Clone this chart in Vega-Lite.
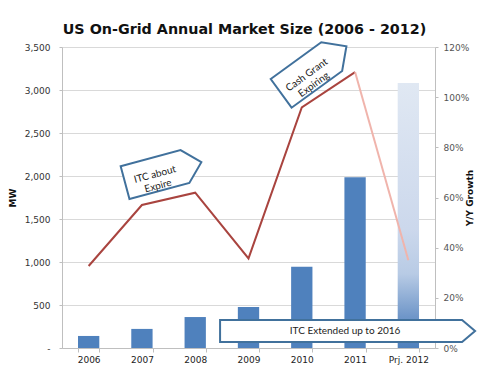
{
  "$schema": "https://vega.github.io/schema/vega-lite/v6.json",
  "width": 373,
  "height": 301,
  "autosize": {"type": "none"},
  "padding": {"left": 62, "top": 47, "right": 52, "bottom": 43},
  "background": "white",
  "title": {
    "text": "US On-Grid Annual Market Size (2006 - 2012)",
    "font": "DejaVu Sans",
    "fontSize": 14.3,
    "fontWeight": "bold",
    "color": "#111111",
    "anchor": "middle",
    "baseline": "bottom",
    "offset": 14,
    "dx": -4,
    "dy": 27
  },
  "config": {
    "view": {"stroke": null},
    "axis": {
      "labelFont": "DejaVu Sans",
      "labelFontSize": 9,
      "titleFont": "DejaVu Sans",
      "titleFontSize": 9,
      "titleFontWeight": "bold",
      "titleColor": "#111111",
      "domainColor": "#bfbfbf",
      "tickColor": "#bfbfbf",
      "gridColor": "#d9d9d9"
    }
  },
  "datasets": {
    "bars": [
      {"year": "2006", "mw": 140},
      {"year": "2007", "mw": 222},
      {"year": "2008", "mw": 360},
      {"year": "2009", "mw": 477},
      {"year": "2010", "mw": 945},
      {"year": "2011", "mw": 1985},
      {"year": "Prj. 2012", "mw": 3080}
    ],
    "growth": [
      {"year": "2006", "growth": 0.327, "seg": "actual"},
      {"year": "2007", "growth": 0.57, "seg": "actual"},
      {"year": "2008", "growth": 0.619, "seg": "actual"},
      {"year": "2009", "growth": 0.357, "seg": "actual"},
      {"year": "2010", "growth": 0.959, "seg": "actual"},
      {"year": "2011", "growth": 1.10, "seg": "actual"},
      {"year": "2011", "growth": 1.10, "seg": "projected"},
      {"year": "Prj. 2012", "growth": 0.35, "seg": "projected"}
    ],
    "notes": [
      {"id": "ext", "year": "2011", "mw": 198, "label": "ITC Extended up to 2016"},
      {"id": "itc", "year": "2007", "mw": 2000, "label": "ITC about\nExpire"},
      {"id": "cash", "year": "2010", "mw": 3175, "label": "Cash Grant\nExpiring"}
    ]
  },
  "encoding": {
    "x": {
      "field": "year",
      "type": "nominal",
      "sort": null,
      "scale": {"domain": ["2006", "2007", "2008", "2009", "2010", "2011", "Prj. 2012"], "paddingInner": 0.6, "paddingOuter": 0.3},
      "axis": {
        "title": null,
        "labelAngle": 0,
        "labelColor": "#222222",
        "tickBand": "extent",
        "tickSize": 4,
        "labelPadding": 3
      }
    }
  },
  "layer": [
    {
      "data": {"name": "bars"},
      "transform": [{"filter": "datum.year != 'Prj. 2012'"}],
      "mark": {"type": "bar", "color": "#4f81bd"},
      "encoding": {
        "y": {
          "field": "mw",
          "type": "quantitative",
          "scale": {"domain": [0, 3500], "nice": false, "zero": true},
          "axis": {
            "title": "MW",
            "values": [0, 500, 1000, 1500, 2000, 2500, 3000, 3500],
            "labelExpr": "datum.value == 0 ? '-' : format(datum.value, ',')",
            "labelColor": "#333333",
            "grid": true,
            "tickSize": 3,
            "labelPadding": 9,
            "titlePadding": 7
          }
        }
      }
    },
    {
      "data": {"name": "bars"},
      "transform": [{"filter": "datum.year == 'Prj. 2012'"}],
      "mark": {
        "type": "bar",
        "fill": {
          "gradient": "linear",
          "x1": 0, "y1": 0, "x2": 0, "y2": 1,
          "stops": [
            {"offset": 0, "color": "#e0e8f3"},
            {"offset": 0.55, "color": "#ccd8ec"},
            {"offset": 0.72, "color": "#b8cbe5"},
            {"offset": 0.88, "color": "#7097c9"},
            {"offset": 1, "color": "#4f81bd"}
          ]
        }
      },
      "encoding": {
        "y": {"field": "mw", "type": "quantitative", "scale": {"domain": [0, 3500], "nice": false}, "axis": null}
      }
    },
    {
      "data": {"name": "growth"},
      "transform": [{"filter": "datum.seg == 'actual'"}],
      "mark": {"type": "line", "color": "#a9443f", "strokeWidth": 2},
      "encoding": {
        "y": {
          "field": "growth",
          "type": "quantitative",
          "scale": {"domain": [0, 1.2], "nice": false},
          "axis": {
            "orient": "right",
            "title": "Y/Y Growth",
            "titleAngle": 270,
            "values": [0, 0.2, 0.4, 0.6, 0.8, 1.0, 1.2],
            "format": ".0%",
            "labelColor": "#555555",
            "grid": false,
            "tickSize": 3,
            "labelPadding": 5,
            "titlePadding": 6
          }
        }
      }
    },
    {
      "data": {"name": "growth"},
      "transform": [{"filter": "datum.seg == 'projected'"}],
      "mark": {"type": "line", "color": "#f0b4ac", "strokeWidth": 2},
      "encoding": {
        "y": {"field": "growth", "type": "quantitative", "scale": {"domain": [0, 1.2], "nice": false}, "axis": null}
      }
    },
    {
      "data": {"name": "notes"},
      "transform": [{"filter": "datum.id == 'ext'"}],
      "layer": [
        {
          "mark": {
            "type": "point",
            "shape": "M-1.35,-0.11L1.07,-0.11L1.2,0L1.07,0.11L-1.35,0.11Z",
            "size": 40000,
            "filled": true,
            "fill": "white",
            "stroke": "#41719c",
            "strokeWidth": 2,
            "opacity": 1
          },
          "encoding": {"y": {"field": "mw", "type": "quantitative", "scale": {"domain": [0, 3500], "nice": false}, "axis": null}}
        },
        {
          "mark": {"type": "text", "font": "Lato", "fontSize": 10, "color": "#222222", "dx": -10, "align": "center", "baseline": "middle"},
          "encoding": {
            "y": {"field": "mw", "type": "quantitative", "scale": {"domain": [0, 3500], "nice": false}, "axis": null},
            "text": {"field": "label"}
          }
        }
      ]
    },
    {
      "data": {"name": "notes"},
      "transform": [{"filter": "datum.id == 'itc'"}],
      "layer": [
        {
          "mark": {
            "type": "point",
            "shape": "M-0.36,-0.3L0.88,-0.3L1.22,0.04L0.88,0.38L-0.36,0.38Z",
            "size": 10000,
            "angle": 345,
            "filled": true,
            "fill": "white",
            "stroke": "#41719c",
            "strokeWidth": 2,
            "opacity": 1
          },
          "encoding": {"y": {"field": "mw", "type": "quantitative", "scale": {"domain": [0, 3500], "nice": false}, "axis": null}}
        },
        {
          "mark": {"type": "text", "font": "Lato", "fontSize": 10, "color": "#222222", "angle": 345, "dx": 13, "dy": 2, "align": "center", "baseline": "middle", "lineBreak": "\n", "lineHeight": 12},
          "encoding": {
            "y": {"field": "mw", "type": "quantitative", "scale": {"domain": [0, 3500], "nice": false}, "axis": null},
            "text": {"field": "label"}
          }
        }
      ]
    },
    {
      "data": {"name": "notes"},
      "transform": [{"filter": "datum.id == 'cash'"}],
      "layer": [
        {
          "mark": {
            "type": "point",
            "shape": "M-0.55,-0.3L0.7,-0.3L1.06,0.06L0.7,0.41L-0.55,0.41Z",
            "size": 10000,
            "angle": 324,
            "filled": true,
            "fill": "white",
            "stroke": "#41719c",
            "strokeWidth": 2,
            "opacity": 1
          },
          "encoding": {"y": {"field": "mw", "type": "quantitative", "scale": {"domain": [0, 3500], "nice": false}, "axis": null}}
        },
        {
          "mark": {"type": "text", "font": "Lato", "fontSize": 10, "color": "#222222", "angle": 324, "dx": 4, "dy": 3, "align": "center", "baseline": "middle", "lineBreak": "\n", "lineHeight": 12},
          "encoding": {
            "y": {"field": "mw", "type": "quantitative", "scale": {"domain": [0, 3500], "nice": false}, "axis": null},
            "text": {"field": "label"}
          }
        }
      ]
    }
  ],
  "resolve": {"scale": {"y": "independent"}, "axis": {"y": "independent"}}
}
